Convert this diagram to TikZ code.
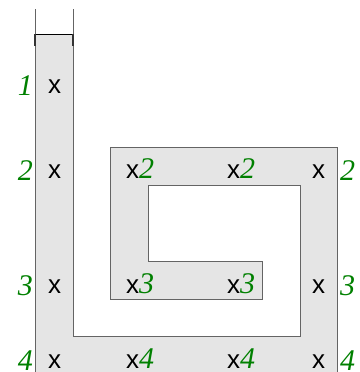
\documentclass[tikz,border=0pt]{standalone}
\usepackage{fontspec}
\setmainfont{Liberation Serif}
\newfontfamily\xfont{Liberation Sans}
\definecolor{lbl}{RGB}{0,128,0}
\definecolor{fillg}{RGB}{229,229,229}
\definecolor{lineg}{RGB}{100,100,100}
\tikzset{
  wall/.style={draw=lineg, line width=0.9pt},
  xm/.style={inner sep=0pt, anchor=base west, font=\xfont\fontsize{26}{26}\selectfont},
  num/.style={inner sep=0pt, font=\rmfamily\itshape\fontsize{30}{30}\selectfont, text=lbl},
}
\newcommand{\gn}[1]{{\color{lbl}\rmfamily\itshape\fontsize{30}{30}\selectfont #1}}
\begin{document}
\begin{tikzpicture}[x=1pt,y=-1pt]
\useasboundingbox (0,0) rectangle (359,372);
\fill[fillg] (35,34) -- (73,34) -- (73,336) -- (300,336) -- (300,185) -- (148,185) -- (148,261) -- (262,261) -- (262,299) -- (110,299) -- (110,147) -- (337,147) -- (337,372) -- (35,372) -- cycle;
\draw[wall] (35,9) -- (35,372);
\draw[wall] (73,9) -- (73,336) -- (300,336) -- (300,185) -- (148,185) -- (148,261) -- (262,261) -- (262,299) -- (110,299) -- (110,147) -- (337,147) -- (337,372);
\draw[black, line width=0.9pt] (35,34) -- (73,34);
\draw[black!80, line width=1.4pt] (35,34) -- (35,46) (73,34) -- (73,46);
% left column
\node[num, anchor=base east] (n1) at (33,95) {1};
\node[num, anchor=base east] (n2) at (33,180) {2};
\node[num, anchor=base east] (n3) at (33,295) {3};
\node[num, anchor=base east] (n4) at (33,370) {4};
\node[xm] (x1) at (48,93) {x};
\node[xm] (x2) at (48,178) {x};
\node[xm] (x3) at (48,293) {x};
\node[xm] (x4) at (48,368) {x};
% inner
\node[xm] (a2) at (126,178) {x\gn{2}};
\node[xm] (b2) at (227,178) {x\gn{2}};
\node[xm] (a3) at (126,293) {x\gn{3}};
\node[xm] (b3) at (227,293) {x\gn{3}};
\node[xm] (a4) at (126,368) {x\gn{4}};
\node[xm] (b4) at (227,368) {x\gn{4}};
% right
\node[xm] (r2) at (312,178) {x};
\node[xm] (r3) at (312,293) {x};
\node[xm] (r4) at (312,368) {x};
\node[num, anchor=base west] (m2) at (340,180) {2};
\node[num, anchor=base west] (m3) at (340,295) {3};
\node[num, anchor=base west] (m4) at (340,370) {4};
\end{tikzpicture}
\end{document}
